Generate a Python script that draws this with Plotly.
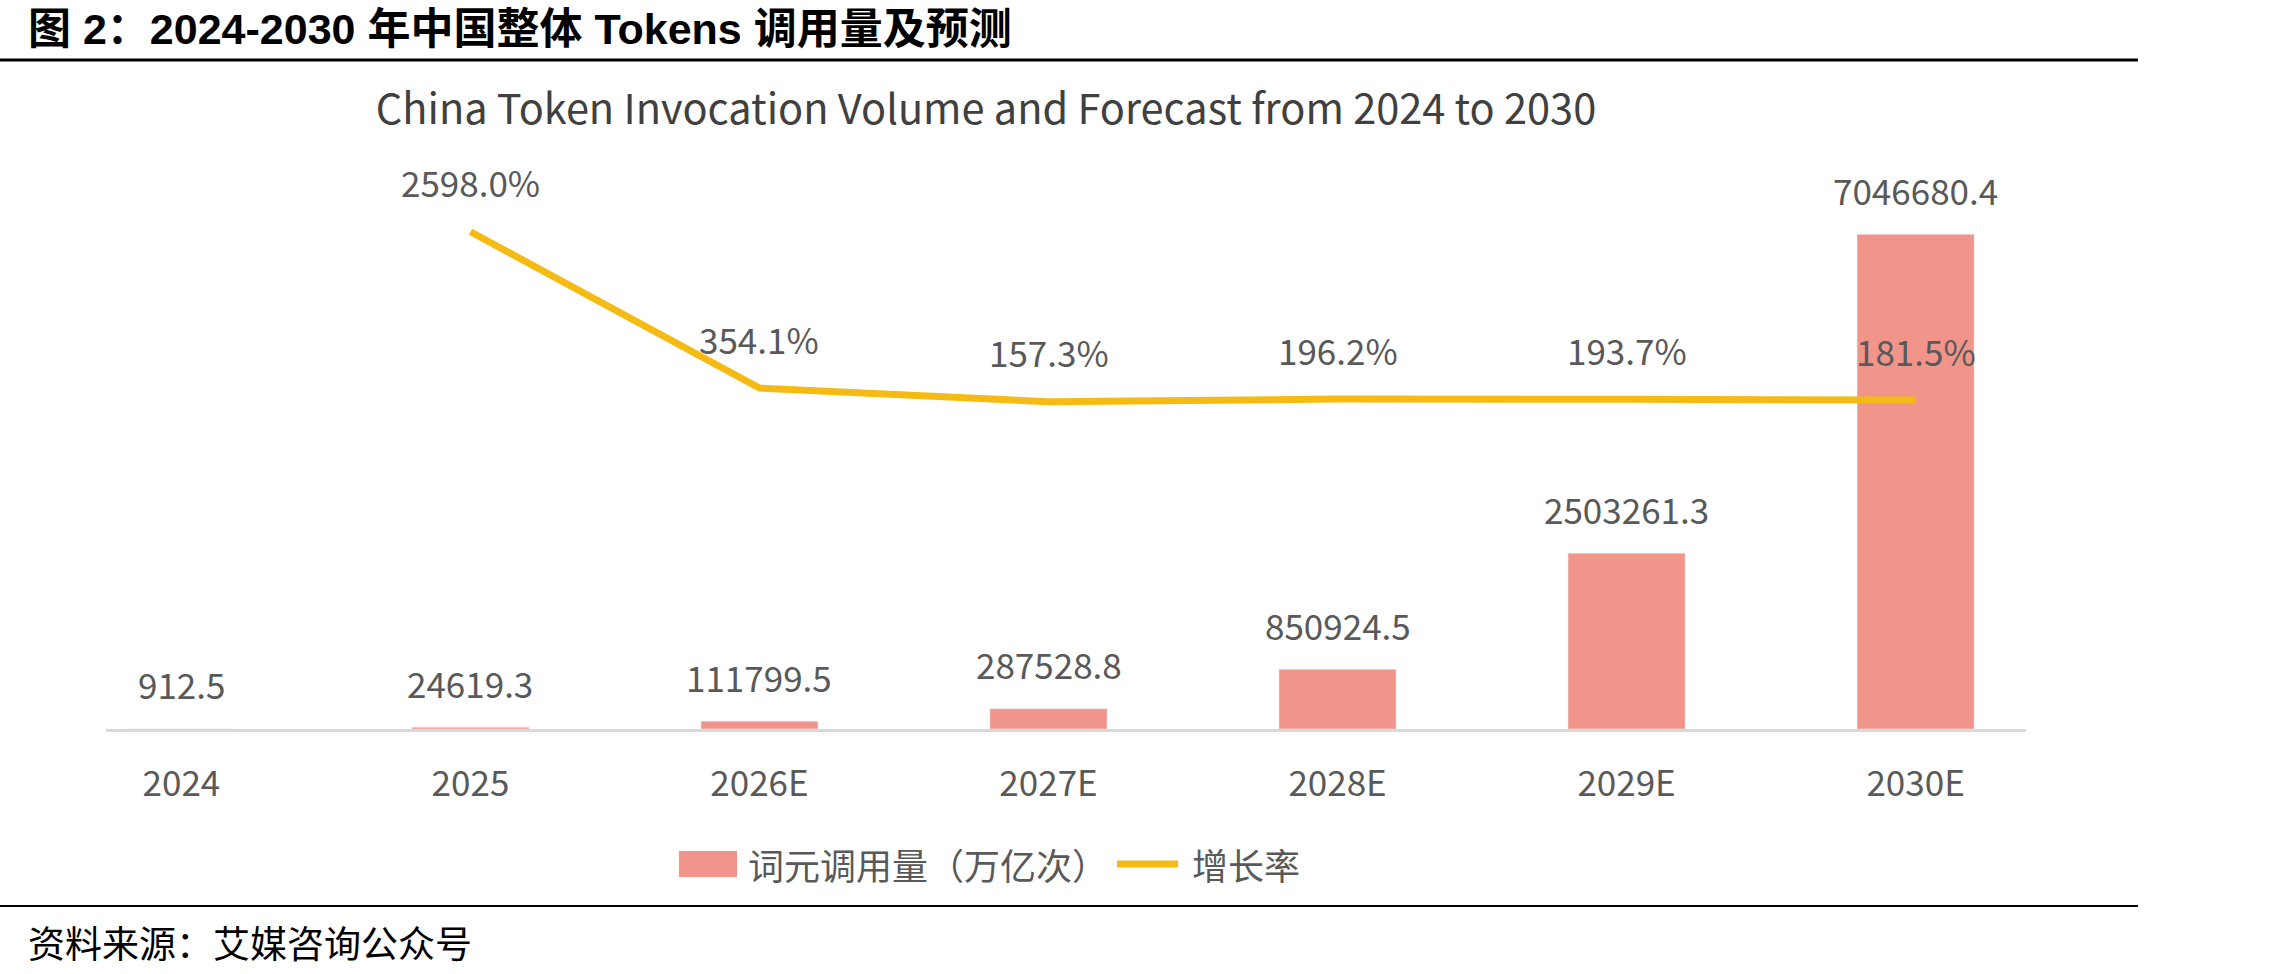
import plotly.graph_objects as go

categories = ["2024", "2025", "2026E", "2027E", "2028E", "2029E", "2030E"]
volume = [912.5, 24619.3, 111799.5, 287528.8, 850924.5, 2503261.3, 7046680.4]
growth = [None, 2598.0, 354.1, 157.3, 196.2, 193.7, 181.5]
volume_labels = ["912.5", "24619.3", "111799.5", "287528.8", "850924.5", "2503261.3", "7046680.4"]
growth_labels = [None, "2598.0%", "354.1%", "157.3%", "196.2%", "193.7%", "181.5%"]

W, H = 2280, 974
L, R_PX, T, B_PX = 106, 2026, 160, 729
PW, PH = R_PX - L, B_PX - T


def px(x):
    return (x - L) / PW


def py(y):
    return (B_PX - y) / PH


CH = "Noto Sans CJK SC"
BAR_C = "#F1948A"
LINE_C = "#F5BB14"
TXT = "#595959"

fig = go.Figure()
fig.add_trace(go.Bar(x=categories, y=volume, marker_color=BAR_C, width=0.405,
                     name="词元调用量（万亿次）", yaxis="y", showlegend=False))
fig.add_trace(go.Scatter(x=categories, y=growth, mode="lines", line=dict(color=LINE_C, width=7),
                         name="增长率", yaxis="y2", showlegend=False, connectgaps=False))

ann = []
for i, (v, t) in enumerate(zip(volume, volume_labels)):
    ann.append(dict(x=i, y=v, xref="x", yref="y", text=t, showarrow=False, yshift=45,
                    font=dict(family=CH, size=35, color=TXT), yanchor="middle"))
for i, (g, t) in enumerate(zip(growth, growth_labels)):
    if g is None:
        continue
    ann.append(dict(x=i, y=g, xref="x", yref="y2", text=t, showarrow=False, yshift=50,
                    font=dict(family=CH, size=35, color=TXT), yanchor="middle"))

# header / source
ann.append(dict(x=px(26), y=py(29), xref="paper", yref="paper", xanchor="left", yanchor="middle",
                text="<b>图 2：2024-2030 年中国整体 Tokens 调用量及预测</b>", showarrow=False,
                font=dict(family="Liberation Sans, " + CH, size=43, color="#000000")))
ann.append(dict(x=px(26), y=py(942), xref="paper", yref="paper", xanchor="left", yanchor="middle",
                text="资料来源：艾媒咨询公众号", showarrow=False,
                font=dict(family=CH, size=37, color="#000000")))
# legend
ann.append(dict(x=px(746), y=py(864), xref="paper", yref="paper", xanchor="left", yanchor="middle",
                text="词元调用量（万亿次）", showarrow=False, font=dict(family=CH, size=36, color=TXT)))
ann.append(dict(x=px(1190), y=py(864), xref="paper", yref="paper", xanchor="left", yanchor="middle",
                text="增长率", showarrow=False, font=dict(family=CH, size=36, color=TXT)))

shapes = [
    dict(type="line", xref="paper", yref="paper", x0=px(0), x1=px(2138), y0=py(60), y1=py(60),
         line=dict(color="#000000", width=3)),
    dict(type="line", xref="paper", yref="paper", x0=px(0), x1=px(2138), y0=py(906), y1=py(906),
         line=dict(color="#000000", width=2)),
    dict(type="rect", xref="paper", yref="paper", x0=px(679), x1=px(737), y0=py(877), y1=py(851),
         fillcolor=BAR_C, line=dict(width=0)),
    dict(type="line", xref="paper", yref="paper", x0=px(1117), x1=px(1178), y0=py(864), y1=py(864),
         line=dict(color=LINE_C, width=7)),
]

fig.update_layout(
    width=W, height=H,
    margin=dict(l=L, r=W - R_PX, t=T, b=H - B_PX, pad=0),
    paper_bgcolor="white", plot_bgcolor="white",
    title=dict(text="China Token Invocation Volume and Forecast from 2024 to 2030",
               x=px(986), xref="paper", xanchor="center", y=1 - 109 / H, yanchor="middle",
               font=dict(family=CH, size=41.5, color="#404040")),
    xaxis=dict(type="category", range=[-0.261, 6.382], showline=True, linecolor="#D9D9D9", linewidth=3,
               showgrid=False, zeroline=False, ticks="", ticklabelstandoff=22,
               tickfont=dict(family=CH, size=35, color=TXT)),
    yaxis=dict(range=[0, 8105000], visible=False, showgrid=False),
    yaxis2=dict(range=[-4541, 3628], overlaying="y", side="right", visible=False, showgrid=False),
    annotations=ann, shapes=shapes, showlegend=False,
)

fig.write_html("out.html")
